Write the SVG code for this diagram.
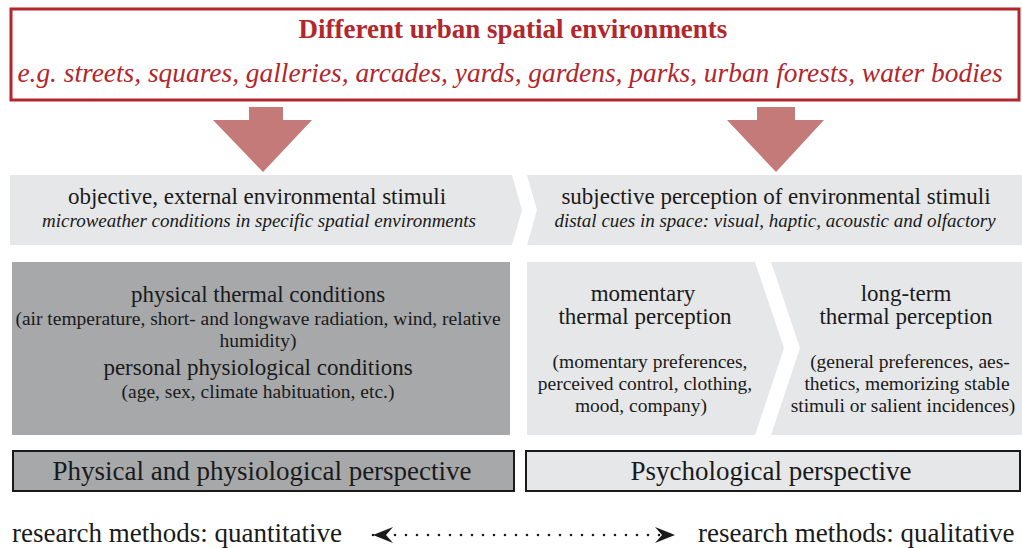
<svg xmlns="http://www.w3.org/2000/svg" width="1022" height="548" viewBox="0 0 1022 548" font-family="'Liberation Serif', 'DejaVu Serif', serif">
  <defs>
    <style>
      text { font-family: 'Liberation Serif', 'DejaVu Serif', serif; fill: #1a1a1a; text-anchor: middle; }
      .red { fill: #b3262b; }
      .title { font-size: 27px; font-weight: bold; }
      .sub { font-size: 27.4px; font-style: italic; }
      .h1 { font-size: 23px; }
      .it { font-size: 19px; font-style: italic; }
      .h2 { font-size: 23px; }
      .small { font-size: 19.5px; }
      .persp { font-size: 27px; }
      .method { font-size: 27px; text-anchor: start; }
      .light { fill: #e6e7e8; }
      .dark { fill: #a6a8aa; }
      .bigarrow { fill: #c47a78; }
    </style>
    <marker id="head" viewBox="0 0 20 16" refX="20" refY="8" markerWidth="20" markerHeight="16" markerUnits="userSpaceOnUse" orient="auto-start-reverse">
      <path d="M20,8 L0,0 L7,8 L0,16 Z" fill="#1a1a1a"/>
    </marker>
  </defs>

  <rect width="1022" height="548" fill="#ffffff"/>

  <!-- urban environments header -->
  <g id="urban-environments">
    <rect x="11" y="9" width="1008" height="91" fill="#ffffff" stroke="#b3262b" stroke-width="3"/>
    <text class="title red" x="513" y="38">Different urban spatial environments</text>
    <text class="sub red" x="510" y="82">e.g. streets, squares, galleries, arcades, yards, gardens, parks, urban forests, water bodies</text>
  </g>

  <!-- objective stimuli -->
  <g id="objective-stimuli">
    <polygon class="light" points="10,175 512,175 522,210 512,245 10,245"/>
    <text class="h1" x="257" y="204">objective, external environmental stimuli</text>
    <text class="it" x="259" y="227">microweather conditions in specific spatial environments</text>
  </g>

  <!-- subjective perception -->
  <g id="subjective-perception">
    <polygon class="light" points="527,175 1022,175 1022,245 527,245 537,210"/>
    <text class="h1" x="776" y="204">subjective perception of environmental stimuli</text>
    <text class="it" x="775" y="227">distal cues in space: visual, haptic, acoustic and olfactory</text>
  </g>

  <!-- physical and physiological conditions -->
  <g id="physical-conditions">
    <rect class="dark" x="12" y="262" width="498" height="173"/>
    <text class="h2" x="258" y="302">physical thermal conditions</text>
    <text class="small" x="258" y="325">(air temperature, short- and longwave radiation, wind, relative</text>
    <text class="small" x="258" y="347">humidity)</text>
    <text class="h2" x="258" y="375">personal physiological conditions</text>
    <text class="small" x="258" y="398">(age, sex, climate habituation, etc.)</text>
  </g>

  <!-- momentary thermal perception -->
  <g id="momentary-perception">
    <polygon class="light" points="527,262 755,262 784,348 755,435 527,435"/>
    <text class="h2" x="643" y="301">momentary</text>
    <text class="h2" x="645" y="324">thermal perception</text>
    <text class="small" x="650" y="368">(momentary preferences,</text>
    <text class="small" x="645" y="390">perceived control, clothing,</text>
    <text class="small" x="641" y="412">mood, company)</text>
  </g>

  <!-- long-term thermal perception -->
  <g id="longterm-perception">
    <polygon class="light" points="771,262 1022,262 1022,435 771,435 800,348"/>
    <text class="h2" x="906" y="301">long-term</text>
    <text class="h2" x="906" y="324">thermal perception</text>
    <text class="small" x="910" y="368">(general preferences, aes-</text>
    <text class="small" x="907" y="390">thetics, memorizing stable</text>
    <text class="small" x="903" y="412">stimuli or salient incidences)</text>
  </g>

  <!-- perspectives -->
  <g id="physical-perspective">
    <rect class="dark" x="13" y="451" width="501" height="40" stroke="#1a1a1a" stroke-width="2"/>
    <text class="persp" x="262" y="480">Physical and physiological perspective</text>
  </g>
  <g id="psychological-perspective">
    <rect class="light" x="526" y="451" width="494" height="40" stroke="#1a1a1a" stroke-width="2"/>
    <text class="persp" x="771" y="480">Psychological perspective</text>
  </g>

  <!-- research methods -->
  <g id="method-quantitative">
    <text class="method" x="12" y="542">research methods: quantitative</text>
  </g>
  <g id="method-qualitative">
    <text class="method" x="698" y="542">research methods: qualitative</text>
  </g>

  <!-- connectors -->
  <g id="connectors">
    <polygon class="bigarrow" points="249,107 283,107 283,120 312,120 263,172 213,120 249,120"/>
    <polygon class="bigarrow" points="757,107 795,107 795,120 824,120 776,172 727,120 757,120"/>
    <line x1="373" y1="535" x2="675" y2="535" stroke="#1a1a1a" stroke-width="2.6" stroke-linecap="round" stroke-dasharray="0 11" marker-start="url(#head)" marker-end="url(#head)"/>
  </g>
</svg>
